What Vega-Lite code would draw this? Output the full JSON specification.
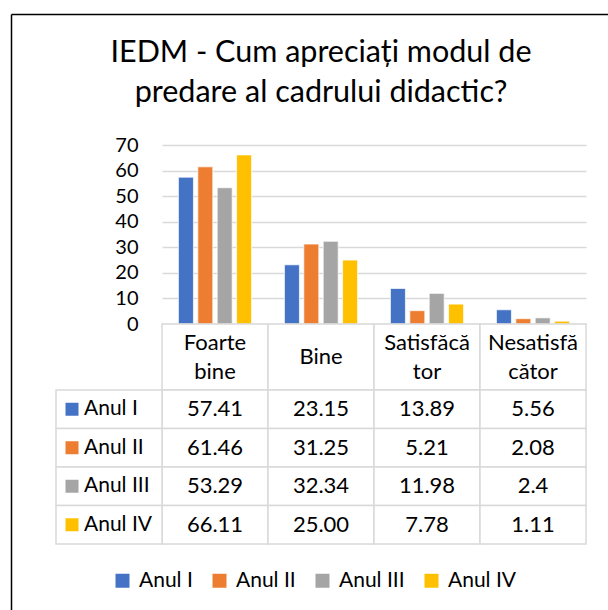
{
  "$schema": "https://vega.github.io/schema/vega-lite/v6.json",
  "padding": {"left": 8, "top": 11, "right": 0, "bottom": 0},
  "background": "white",
  "datasets": {
    "t": [
      {"c": "Foarte bine", "s": "Anul I", "v": 57.41},
      {"c": "Bine", "s": "Anul I", "v": 23.15},
      {"c": "Satisfăcător", "s": "Anul I", "v": 13.89},
      {"c": "Nesatisfăcător", "s": "Anul I", "v": 5.56},
      {"c": "Foarte bine", "s": "Anul II", "v": 61.46},
      {"c": "Bine", "s": "Anul II", "v": 31.25},
      {"c": "Satisfăcător", "s": "Anul II", "v": 5.21},
      {"c": "Nesatisfăcător", "s": "Anul II", "v": 2.08},
      {"c": "Foarte bine", "s": "Anul III", "v": 53.29},
      {"c": "Bine", "s": "Anul III", "v": 32.34},
      {"c": "Satisfăcător", "s": "Anul III", "v": 11.98},
      {"c": "Nesatisfăcător", "s": "Anul III", "v": 2.4},
      {"c": "Foarte bine", "s": "Anul IV", "v": 66.11},
      {"c": "Bine", "s": "Anul IV", "v": 25.00},
      {"c": "Satisfăcător", "s": "Anul IV", "v": 7.78},
      {"c": "Nesatisfăcător", "s": "Anul IV", "v": 1.11}
    ]
  },
  "vconcat": [
    {
      "width": 530, "height": 179,
      "title": {
        "text": ["IEDM - Cum apreciați modul de", "predare al cadrului didactic?"],
        "fontSize": 30.5, "font": "Lato", "fontWeight": "normal", "color": "#000000",
        "lineHeight": 40, "anchor": "middle", "frame": "group", "offset": -97
      },
      "layer": [
        {
          "data": {"name": "t"},
          "mark": {"type": "bar", "stroke": "white", "strokeWidth": 0.7},
          "encoding": {
            "x": {"field": "c", "type": "nominal", "sort": null,
              "scale": {"domain": ["Foarte bine", "Bine", "Satisfăcător", "Nesatisfăcător"], "range": [106, 530], "paddingInner": 0.31, "paddingOuter": 0.155},
              "axis": null},
            "xOffset": {"field": "s", "type": "nominal", "sort": null,
              "scale": {"domain": ["Anul I", "Anul II", "Anul III", "Anul IV"], "paddingInner": 0.227, "paddingOuter": 0}},
            "y": {"field": "v", "type": "quantitative",
              "scale": {"domain": [0, 70], "nice": false},
              "axis": {"values": [0, 10, 20, 30, 40, 50, 60, 70], "offset": -106, "domain": false, "ticks": false, "tickSize": 0,
                "labelPadding": 24, "grid": true, "gridColor": "#D9D9D9", "gridWidth": 1.5, "title": null,
                "labelFontSize": 20, "labelFont": "Lato", "labelColor": "#000000"}},
            "color": {"field": "s", "type": "nominal",
              "scale": {"domain": ["Anul I", "Anul II", "Anul III", "Anul IV"], "range": ["#4472C4", "#ED7D31", "#A5A5A5", "#FFC000"]},
              "legend": {"orient": "none", "legendX": 56, "legendY": 425, "direction": "horizontal", "title": null,
                "symbolType": "square", "symbolSize": 196, "symbolStrokeWidth": 0, "symbolOpacity": 1,
                "labelFontSize": 21, "labelFont": "Lato", "labelColor": "#000000", "columnPadding": 16, "labelOffset": 6}}
          }
        },
        {
          "data": {"values": [{"b": 0}, {"b": 1}]},
          "mark": {"type": "point", "opacity": 0},
          "encoding": {
            "x": {"field": "b", "type": "quantitative",
              "scale": {"domain": [0, 1], "range": [-45, 553], "nice": false, "zero": false},
              "axis": {"orient": "top", "offset": 131, "domain": true, "domainColor": "#000000", "domainWidth": 1.5,
                "labels": false, "ticks": false, "grid": false, "title": null}},
            "y": {"field": "b", "type": "quantitative",
              "scale": {"domain": [0, 1], "range": [465, -131], "nice": false, "zero": false},
              "axis": {"orient": "left", "offset": 45, "domain": true, "domainColor": "#000000", "domainWidth": 1.5,
                "labels": false, "ticks": false, "grid": false, "title": null}}
          }
        }
      ],
      "resolve": {"scale": {"x": "independent", "y": "independent"}, "axis": {"x": "independent", "y": "independent"}}
    },
    {
      "width": 530, "height": 66,
      "data": {"name": "t"},
      "transform": [
        {"filter": "datum.s === 'Anul I'"},
        {"calculate": "indexof(datum.c, ' ') > 0 ? replace(datum.c, ' ', '\\n') : (length(datum.c) > 9 ? substring(datum.c, 0, 9) + '\\n' + substring(datum.c, 9) : datum.c)", "as": "h"}
      ],
      "encoding": {
        "x": {"field": "c", "type": "nominal", "sort": null,
          "scale": {"domain": [" ", "Foarte bine", "Bine", "Satisfăcător", "Nesatisfăcător"], "paddingInner": 0, "paddingOuter": 0},
          "axis": null}
      },
      "layer": [
        {"mark": {"type": "rect", "fill": "white", "stroke": "#D9D9D9", "strokeWidth": 1.5}},
        {"transform": [{"filter": "indexof(datum.h, '\\n') >= 0"}],
          "mark": {"type": "text", "lineBreak": "\n", "fontSize": 22, "font": "Lato", "lineHeight": 29, "dy": -14.5, "color": "#000000"},
          "encoding": {"text": {"field": "h", "type": "nominal"}}},
        {"transform": [{"filter": "indexof(datum.h, '\\n') < 0"}],
          "mark": {"type": "text", "fontSize": 22, "font": "Lato", "color": "#000000"},
          "encoding": {"text": {"field": "h", "type": "nominal"}}}
      ]
    },
    {
      "width": 530, "height": 154,
      "data": {"name": "t"},
      "transform": [
        {"calculate": "datum.s === 'Anul IV' ? format(datum.v, '.2f') : '' + datum.v", "as": "lab"}
      ],
      "encoding": {
        "x": {"field": "c", "type": "nominal", "sort": null,
          "scale": {"domain": [" ", "Foarte bine", "Bine", "Satisfăcător", "Nesatisfăcător"], "paddingInner": 0, "paddingOuter": 0},
          "axis": null},
        "y": {"field": "s", "type": "nominal", "sort": null,
          "scale": {"domain": ["Anul I", "Anul II", "Anul III", "Anul IV"], "paddingInner": 0, "paddingOuter": 0},
          "axis": null}
      },
      "layer": [
        {"mark": {"type": "rect", "fill": "white", "stroke": "#D9D9D9", "strokeWidth": 1.5}},
        {"transform": [{"filter": "datum.c === 'Foarte bine'"}],
          "mark": {"type": "rect", "fill": "white", "stroke": "#D9D9D9", "strokeWidth": 1.5},
          "encoding": {"x": {"datum": " ", "type": "nominal"}}},
        {"mark": {"type": "text", "fontSize": 22, "font": "Lato", "color": "#000000"},
          "encoding": {"text": {"field": "lab", "type": "nominal"}}},
        {"transform": [{"filter": "datum.c === 'Foarte bine'"}],
          "mark": {"type": "point", "shape": "square", "filled": true, "size": 169, "xOffset": -37, "opacity": 1, "strokeWidth": 0},
          "encoding": {"x": {"datum": " ", "type": "nominal"},
            "color": {"field": "s", "type": "nominal",
              "scale": {"domain": ["Anul I", "Anul II", "Anul III", "Anul IV"], "range": ["#4472C4", "#ED7D31", "#A5A5A5", "#FFC000"]},
              "legend": {"orient": "none", "legendX": 56, "legendY": 425, "direction": "horizontal", "title": null,
                "symbolType": "square", "symbolSize": 196, "symbolStrokeWidth": 0, "symbolOpacity": 1,
                "labelFontSize": 21, "labelFont": "Lato", "labelColor": "#000000", "columnPadding": 16, "labelOffset": 6}}}},
        {"transform": [{"filter": "datum.c === 'Foarte bine'"}],
          "mark": {"type": "text", "align": "left", "xOffset": -25, "fontSize": 21, "font": "Lato", "color": "#000000"},
          "encoding": {"x": {"datum": " ", "type": "nominal"}, "text": {"field": "s", "type": "nominal"}}}
      ]
    }
  ],
  "spacing": 0,
  "bounds": "flush",
  "config": {"view": {"stroke": null}, "font": "Lato"}
}
